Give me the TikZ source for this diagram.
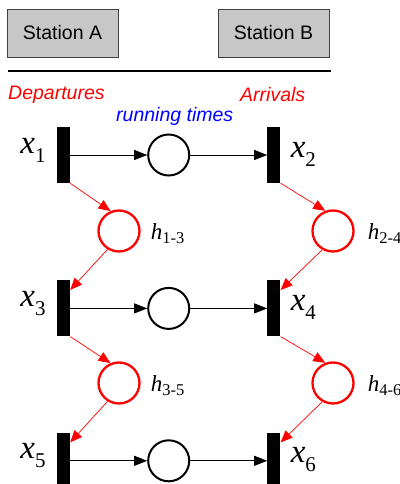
\documentclass[tikz,border=0pt]{standalone}
\usepackage{fontspec}
\setmainfont{Liberation Sans}
\newfontfamily\serif{Liberation Serif}
\usetikzlibrary{positioning,arrows.meta,calc}
\tikzset{
  station/.style={draw=black!75, fill=black!22, line width=0.8pt,
    minimum width=111pt, minimum height=48pt, font=\fontsize{19.5}{22}\selectfont},
  trans/.style={fill=black, minimum width=13pt, minimum height=56pt, inner sep=0pt},
  place/.style={circle, draw, line width=2pt, minimum size=41pt, inner sep=0pt},
  hplace/.style={place, draw=red, line width=2.3pt},
  flow/.style={-{Triangle[length=13pt,width=10pt]}, line width=0.7pt},
  hflow/.style={-{Triangle[length=12pt,width=10pt]}, line width=0.7pt, red},
  grouplabel/.style={font=\fontsize{19.5}{22}\selectfont\itshape, anchor=west, inner sep=0pt},
  xlab/.style={font=\serif\fontsize{33}{33}\selectfont, inner sep=0pt},
  hlab/.style={font=\serif\fontsize{23}{23}\selectfont, inner sep=0pt},
}
\newcommand{\xv}[1]{\textit{x}\raisebox{-9pt}{\fontsize{21}{21}\selectfont#1}}
\newcommand{\hv}[1]{\textit{h}\raisebox{-4pt}{\fontsize{16.5}{16.5}\selectfont#1}}
\begin{document}
\begin{tikzpicture}[x=1pt, y=-1pt]
  \useasboundingbox[fill=white] (0,0) rectangle (399,484);
  % stations
  \node[station] (sa) at (62.5,33) {Station A};
  \node[station] (sb) at (273.5,33) {Station B};
  \coordinate (rl) at (8,71);
  \coordinate (rr) at (331,71);
  \draw[line width=1.4pt] (rl) -- (rr);
  \node[grouplabel, text=red] (dep) at (8,95) {Departures};
  \node[grouplabel, text=red] (arr) at (240,95) {Arrivals};
  \node[grouplabel, text=blue] (rt) at (116,116) {running times};
  % transitions and running places
  \node[trans] (x1) at (63.5,155) {};
  \node[place, right=77pt of x1] (r1) {};
  \node[trans, right=77pt of r1] (x2) {};
  \node[trans, below=97pt of x1] (x3) {};
  \node[place, right=77pt of x3] (r2) {};
  \node[trans, right=77pt of r2] (x4) {};
  \node[trans, below=96pt of x3] (x5) {};
  \node[place, right=77pt of x5] (r3) {};
  \node[trans, right=77pt of r3] (x6) {};
  % headway places
  \node[hplace] (h13) at (119,231) {};
  \node[hplace] (h24) at (333,231) {};
  \node[hplace] (h35) at (119,383) {};
  \node[hplace] (h46) at (333,383) {};
  % labels
  \node[xlab, left=11pt of x1, yshift=5pt] (lx1) {\xv{1}};
  \node[xlab, right=10pt of x2, yshift=1pt] (lx2) {\xv{2}};
  \node[xlab, left=11pt of x3, yshift=5pt] (lx3) {\xv{3}};
  \node[xlab, right=10pt of x4, yshift=1pt] (lx4) {\xv{4}};
  \node[xlab, left=11pt of x5, yshift=5pt] (lx5) {\xv{5}};
  \node[xlab, right=10pt of x6, yshift=1pt] (lx6) {\xv{6}};
  \node[hlab, right=10pt of h13, yshift=-3pt] (lh13) {\hv{1-3}};
  \node[hlab, right=13pt of h24, yshift=-3pt] (lh24) {\hv{2-4}};
  \node[hlab, right=10pt of h35, yshift=-3pt] (lh35) {\hv{3-5}};
  \node[hlab, right=13pt of h46, yshift=-3pt] (lh46) {\hv{4-6}};
  % running arcs
  \draw[flow] (x1) -- (r1);
  \draw[flow] (r1) -- (x2);
  \draw[flow] (x3) -- (r2);
  \draw[flow] (r2) -- (x4);
  \draw[flow] (x5) -- (r3);
  \draw[flow] (r3) -- (x6);
  % headway arcs
  \draw[hflow] (x1.south east) -- (h13.113);
  \draw[hflow] (h13.238) -- (x3.70);
  \draw[hflow] (x2.south east) -- (h24.111);
  \draw[hflow] (h24.240) -- (x4.70);
  \draw[hflow] (x3.south east) -- (h35.113);
  \draw[hflow] (h35.238) -- (x5.70);
  \draw[hflow] (x4.south east) -- (h46.111);
  \draw[hflow] (h46.240) -- (x6.70);
\end{tikzpicture}
\end{document}
